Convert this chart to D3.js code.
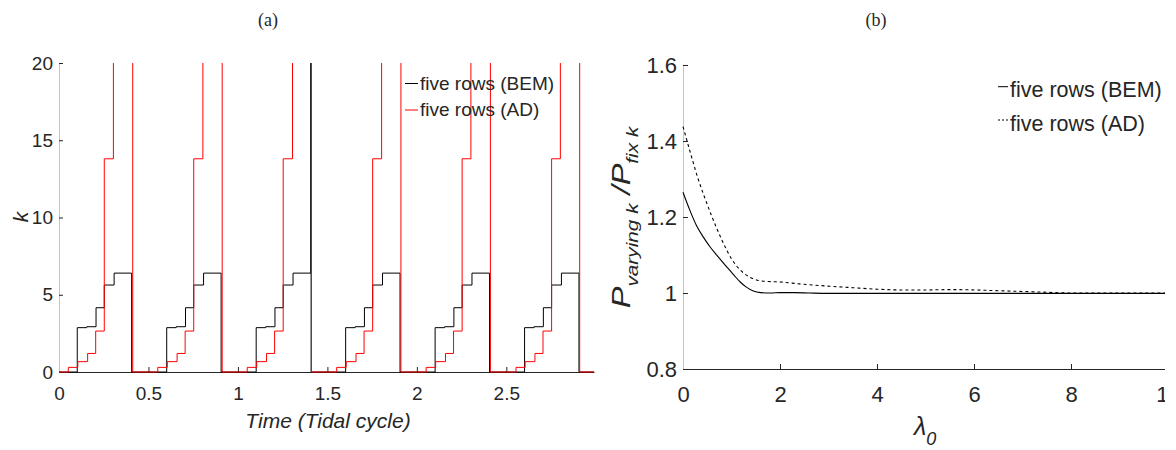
<!DOCTYPE html>
<html>
<head>
<meta charset="utf-8">
<script src="https://cdn.jsdelivr.net/npm/d3@7"></script>
<style>
  body { margin: 0; background: #fff; }
  svg { display: block; }
  text { font-family: "Liberation Sans", Arial, sans-serif; fill: #262626; }
</style>
</head>
<body>
<div id="chart"></div>
<script>
// ---- panel (a): k against time, step series
const bemTime = [0, 0.102, 0.155, 0.207, 0.253, 0.308, 0.406,
                 0.602, 0.655, 0.707, 0.753, 0.808, 0.906,
                 1.102, 1.155, 1.207, 1.253, 1.308, 1.407, 1.409,
                 1.602, 1.655, 1.707, 1.753, 1.808, 1.906,
                 2.102, 2.155, 2.207, 2.253, 2.308, 2.406,
                 2.602, 2.655, 2.707, 2.753, 2.808, 2.906, 2.99]
const bemK = [0, 2.87, 2.93, 4.16, 5.63, 6.4, 0,
              2.87, 2.93, 4.16, 5.63, 6.4, 0,
              2.87, 2.93, 4.16, 5.63, 6.4, 40, 0,
              2.87, 2.93, 4.16, 5.63, 6.4, 0,
              2.87, 2.93, 4.16, 5.63, 6.4, 0,
              2.87, 2.93, 4.16, 5.63, 6.4, 0, 0]
const adTime = [0, 0.052, 0.105, 0.16, 0.205, 0.253, 0.304, 0.412,
                0.552, 0.605, 0.66, 0.705, 0.753, 0.804, 0.912,
                1.052, 1.105, 1.16, 1.205, 1.253, 1.305, 1.411,
                1.552, 1.605, 1.66, 1.705, 1.753, 1.803, 1.911,
                2.052, 2.105, 2.16, 2.205, 2.253, 2.302, 2.411,
                2.554, 2.605, 2.66, 2.705, 2.753, 2.802, 2.91, 2.99]
const adK = [0, 0.3, 0.67, 1.2, 2.65, 13.8, 40, 0,
             0.3, 0.67, 1.2, 2.65, 13.8, 40, 0,
             0.3, 0.67, 1.2, 2.65, 13.8, 40, 0,
             0.3, 0.67, 1.2, 2.65, 13.8, 40, 0,
             0.3, 0.67, 1.2, 2.65, 13.8, 40, 0,
             0.3, 0.67, 1.2, 2.65, 13.8, 40, 0, 0]
const aXTicks = [0, 0.5, 1, 1.5, 2, 2.5]
const aYTicks = [0, 5, 10, 15, 20]

// ---- panel (b): power ratio against lambda_0
const lambdaBem = [0, 0.14, 0.28, 0.42, 0.56, 0.7, 0.9, 1.05, 1.18, 1.3, 1.45, 1.6, 1.8, 2.0, 2.3, 2.6, 3, 3.5, 4, 5, 6, 7, 8, 9, 10]
const ratioBem = [1.265, 1.218, 1.177, 1.147, 1.121, 1.099, 1.069, 1.047, 1.029, 1.016, 1.005, 1.001, 1.0, 1.001, 1.001, 1.0, 0.999, 0.999, 0.999, 0.999, 0.999, 0.999, 0.999, 0.999, 0.999]
const lambdaAd = [0, 0.15, 0.3, 0.45, 0.6, 0.8, 1.0, 1.2, 1.4, 1.6, 1.8, 2.0, 2.4, 3.0, 3.5, 4.0, 4.5, 5, 5.5, 6, 6.5, 7, 7.5, 8, 9, 10]
const ratioAd = [1.438, 1.37, 1.305, 1.25, 1.2, 1.14, 1.09, 1.058, 1.04, 1.032, 1.03, 1.029, 1.024, 1.018, 1.014, 1.01, 1.008, 1.008, 1.009, 1.008, 1.006, 1.004, 1.002, 1.0, 1.0, 1.0]
const bXTicks = [0, 2, 4, 6, 8, 10]
const bYTicks = [0.8, 1, 1.2, 1.4, 1.6]

const legendNames = ['five rows (BEM)', 'five rows (AD)']

const W = 1176, H = 450

const svg = d3.select('#chart')
            .append('svg')
                .attr('width', W)
                .attr('height', H)

const defs = svg.append('defs')
defs.append('clipPath').attr('id', 'clipA')
    .append('rect').attr('x', 59).attr('y', 63).attr('width', 536).attr('height', 311)
defs.append('clipPath').attr('id', 'clipFig')
    .append('rect').attr('x', 0).attr('y', 0).attr('width', 1165).attr('height', H)

const fig = svg.append('g').attr('clip-path', 'url(#clipFig)')

// ================= panel (a)
const xA = d3.scaleLinear().domain([0, 2.99]).range([59, 594])
const yA = d3.scaleLinear().domain([0, 20]).range([372, 63])

const gxA = fig.append('g')
            .attr('transform', `translate(0,${yA(0)})`)
            .call(d3.axisBottom(xA).tickValues(aXTicks).tickFormat(d3.format('~g'))
                    .tickSizeInner(-5).tickSizeOuter(0).tickPadding(14.5))
gxA.select('.domain').attr('stroke', '#262626')
gxA.selectAll('.tick line').attr('stroke', '#262626')
gxA.selectAll('text').attr('font-size', 19).attr('fill', '#262626')
    .style('font-family', '"Liberation Sans", Arial, sans-serif')

const gyA = fig.append('g')
            .attr('transform', `translate(${xA(0)},0)`)
            .call(d3.axisLeft(yA).tickValues(aYTicks)
                    .tickSizeInner(-4).tickSizeOuter(0).tickPadding(6))
gyA.select('.domain').attr('stroke', '#c4c4c4')
gyA.selectAll('.tick line').attr('stroke', '#262626')
gyA.selectAll('text').attr('font-size', 19).attr('fill', '#262626')
    .style('font-family', '"Liberation Sans", Arial, sans-serif')

const stepLine = d3.line().curve(d3.curveStepAfter)

const plotA = fig.append('g').attr('clip-path', 'url(#clipA)')
plotA.append('path')
    .attr('d', stepLine.x(d => xA(d[0])).y(d => yA(d[1]))(d3.zip(bemTime, bemK)))
    .attr('fill', 'none').attr('stroke', '#000').attr('stroke-width', 1)
plotA.append('path')
    .attr('d', stepLine.x(d => xA(d[0])).y(d => yA(d[1]))(d3.zip(adTime, adK)))
    .attr('fill', 'none').attr('stroke', '#ff0000').attr('stroke-width', 1)

// legend (a)
const legA = fig.append('g')
const legAColors = ['#000', '#ff0000']
legendNames.forEach((name, i) => {
    const ly = [83.5, 110][i]
    legA.append('line').attr('x1', 405).attr('x2', 418).attr('y1', ly).attr('y2', ly)
        .attr('stroke', legAColors[i]).attr('stroke-width', 1)
    legA.append('text').attr('x', 420).attr('y', [90, 116][i])
        .attr('font-size', 19).attr('fill', '#000').text(name)
})

fig.append('text').attr('x', 328).attr('y', 428)
    .attr('text-anchor', 'middle').attr('font-size', 21).attr('font-style', 'italic')
    .text('Time (Tidal cycle)')
fig.append('text').attr('transform', 'translate(28,217) rotate(-90)')
    .attr('text-anchor', 'middle').attr('font-size', 21).attr('font-style', 'italic')
    .text('k')
svg.append('text').attr('x', 268).attr('y', 26).attr('text-anchor', 'middle')
    .style('font-family', '"Liberation Serif", "Times New Roman", serif')
    .attr('font-size', 18).attr('fill', '#000').text('(a)')

// ================= panel (b)
const xB = d3.scaleLinear().domain([0, 10]).range([683, 1168])
const yB = d3.scaleLinear().domain([0.8, 1.6]).range([369, 65])

const gxB = fig.append('g')
            .attr('transform', `translate(0,${yB(0.8)})`)
            .call(d3.axisBottom(xB).tickValues(bXTicks)
                    .tickSizeInner(-5).tickSizeOuter(0).tickPadding(17))
gxB.select('.domain').attr('stroke', '#262626')
gxB.selectAll('.tick line').attr('stroke', '#262626')
gxB.selectAll('text').attr('font-size', 22).attr('fill', '#262626')
    .style('font-family', '"Liberation Sans", Arial, sans-serif')

const gyB = fig.append('g')
            .attr('transform', `translate(${xB(0)},0)`)
            .call(d3.axisLeft(yB).tickValues(bYTicks).tickFormat(d3.format('~g'))
                    .tickSizeInner(-5).tickSizeOuter(0).tickPadding(6))
gyB.select('.domain').attr('stroke', '#c4c4c4')
gyB.selectAll('.tick line').attr('stroke', '#262626')
gyB.selectAll('text').attr('font-size', 22).attr('fill', '#262626')
    .style('font-family', '"Liberation Sans", Arial, sans-serif')

const curveLine = d3.line().curve(d3.curveMonotoneX)
    .x(d => xB(d[0])).y(d => yB(d[1]))

fig.append('path').attr('d', curveLine(d3.zip(lambdaBem, ratioBem)))
    .attr('fill', 'none').attr('stroke', '#000').attr('stroke-width', 1.1)
fig.append('path').attr('d', curveLine(d3.zip(lambdaAd, ratioAd)))
    .attr('fill', 'none').attr('stroke', '#000').attr('stroke-width', 1.1)
    .attr('stroke-dasharray', '3,3')

// legend (b)
const legB = fig.append('g')
legendNames.forEach((name, i) => {
    const ly = [86.7, 120][i]
    legB.append('line').attr('x1', 998).attr('x2', 1008).attr('y1', ly).attr('y2', ly)
        .attr('stroke', '#000').attr('stroke-width', 1)
        .attr('stroke-dasharray', i === 0 ? null : '2,2')
    legB.append('text').attr('x', 1010).attr('y', [97, 130.5][i])
        .attr('font-size', 21.5).attr('fill', '#000').text(name)
})

// x label lambda_0
const lam = fig.append('text').attr('x', 914).attr('y', 435)
    .attr('font-size', 25).attr('font-style', 'italic')
lam.append('tspan').text('λ')
lam.append('tspan').attr('dy', 10).attr('font-size', 18).text('0')

// y label P_varying k / P_fix k (stretched along the text like the original)
const yl = fig.append('text').attr('transform', 'translate(630,217.5) rotate(-90) scale(1.3,1)')
    .attr('text-anchor', 'middle').attr('font-size', 25).attr('font-style', 'italic')
yl.append('tspan').text('P')
yl.append('tspan').attr('dy', 8).attr('font-size', 16).text('varying k')
yl.append('tspan').attr('dy', -8).text(' /P')
yl.append('tspan').attr('dy', 8).attr('font-size', 16).text('fix k')

svg.append('text').attr('x', 876).attr('y', 26).attr('text-anchor', 'middle')
    .style('font-family', '"Liberation Serif", "Times New Roman", serif')
    .attr('font-size', 18).attr('fill', '#000').text('(b)')
</script>
</body>
</html>
